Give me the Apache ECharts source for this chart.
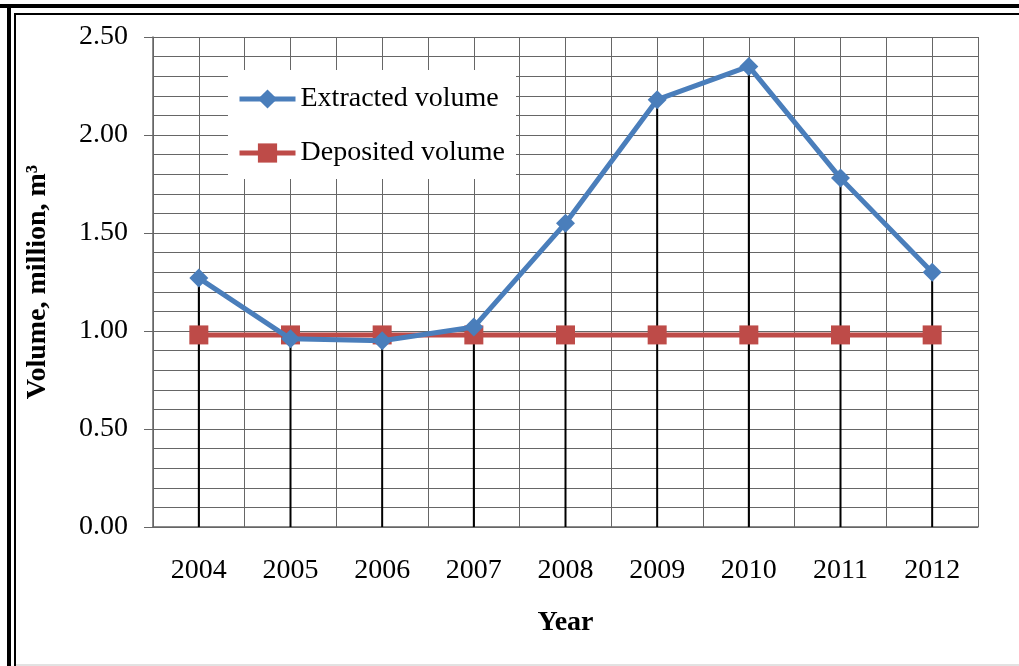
<!DOCTYPE html>
<html>
<head>
<meta charset="utf-8">
<script src="https://cdn.jsdelivr.net/npm/echarts@6/dist/echarts.min.js"></script>
<style>
  html, body { margin: 0; padding: 0; background: #fff; }
  #chart { width: 1019px; height: 666px; }
</style>
</head>
<body>
<div id="chart"></div>
<script>
const years = ["2004", "2005", "2006", "2007", "2008", "2009", "2010", "2011", "2012"];
const extracted = [1.27, 0.96, 0.95, 1.02, 1.55, 2.18, 2.35, 1.78, 1.30];
const deposited = [0.98, 0.98, 0.98, 0.98, 0.98, 0.98, 0.98, 0.98, 0.98];

const FONT = "'Liberation Serif', 'Times New Roman', serif";
const GRID = "#666";

const chart = echarts.init(document.getElementById("chart"), null, { renderer: "canvas" });

chart.setOption({
  animation: false,
  backgroundColor: "#fff",
  textStyle: { fontFamily: FONT, color: "#000" },
  grid: { left: 153, right: 41, top: 37, bottom: 139 },
  // page frame: thick + thin double line on top and left, faint line at the bottom
  graphic: [
    { type: "rect", shape: { x: 0, y: 4, width: 1019, height: 4 }, style: { fill: "#000" } },
    { type: "rect", shape: { x: 7, y: 4, width: 4, height: 662 }, style: { fill: "#000" } },
    { type: "rect", shape: { x: 14, y: 13, width: 1005, height: 2 }, style: { fill: "#000" } },
    { type: "rect", shape: { x: 14, y: 13, width: 2, height: 653 }, style: { fill: "#000" } },
    { type: "rect", shape: { x: 16, y: 664, width: 1003, height: 2 }, style: { fill: "#e2e2e2" } }
  ],
  legend: {
    left: 228,
    top: 70,
    orient: "vertical",
    backgroundColor: "#fff",
    padding: [15, 11, 12, 9],
    itemGap: 26,
    itemWidth: 56,
    itemHeight: 24,
    lineStyle: { width: 5 },
    textStyle: { fontFamily: FONT, fontSize: 28, color: "#000" },
    data: ["Extracted volume", "Deposited volume"]
  },
  xAxis: [
    {
      type: "category",
      data: years,
      axisTick: { show: false },
      axisLine: { lineStyle: { color: GRID, width: 1.5 } },
      axisLabel: { fontFamily: FONT, fontSize: 28, color: "#000", margin: 30 },
      splitLine: { show: false },
      name: "Year",
      nameLocation: "middle",
      nameGap: 82,
      nameTextStyle: { fontFamily: FONT, fontSize: 28, fontWeight: "bold", color: "#000" }
    },
    {
      // half-category vertical grid lines
      type: "value",
      min: 0,
      max: 9,
      interval: 0.5,
      position: "bottom",
      axisLine: { show: false },
      axisTick: { show: false },
      axisLabel: { show: false },
      splitLine: { show: true, lineStyle: { color: GRID, width: 1 } }
    }
  ],
  yAxis: {
    type: "value",
    min: 0,
    max: 2.5,
    interval: 0.5,
    axisLine: { show: true, lineStyle: { color: GRID, width: 1.5 } },
    axisTick: { show: true, length: 9, lineStyle: { color: GRID } },
    axisLabel: {
      fontFamily: FONT, fontSize: 28, color: "#000", margin: 25,
      formatter: (v) => v.toFixed(2)
    },
    splitLine: { show: true, lineStyle: { color: GRID, width: 1 } },
    minorTick: { show: false, splitNumber: 5 },
    minorSplitLine: { show: true, lineStyle: { color: GRID, width: 1 } },
    name: "Volume, million, m³",
    nameLocation: "middle",
    nameGap: 101,
    nameTextStyle: { fontFamily: FONT, fontSize: 28, fontWeight: "bold", color: "#000" }
  },
  series: [
    {
      // drop lines from each point down to the axis
      type: "bar",
      data: extracted,
      barWidth: 2,
      itemStyle: { color: "#000" },
      silent: true,
      z: 1
    },
    {
      name: "Extracted volume",
      type: "line",
      data: extracted,
      symbol: "diamond",
      symbolSize: 19,
      lineStyle: { color: "#4a7ebb", width: 5 },
      itemStyle: { color: "#4a7ebb" },
      z: 3
    },
    {
      name: "Deposited volume",
      type: "line",
      data: deposited,
      symbol: "rect",
      symbolSize: 19,
      lineStyle: { color: "#be4b48", width: 5 },
      itemStyle: { color: "#be4b48" },
      z: 2
    }
  ]
});
</script>
</body>
</html>
